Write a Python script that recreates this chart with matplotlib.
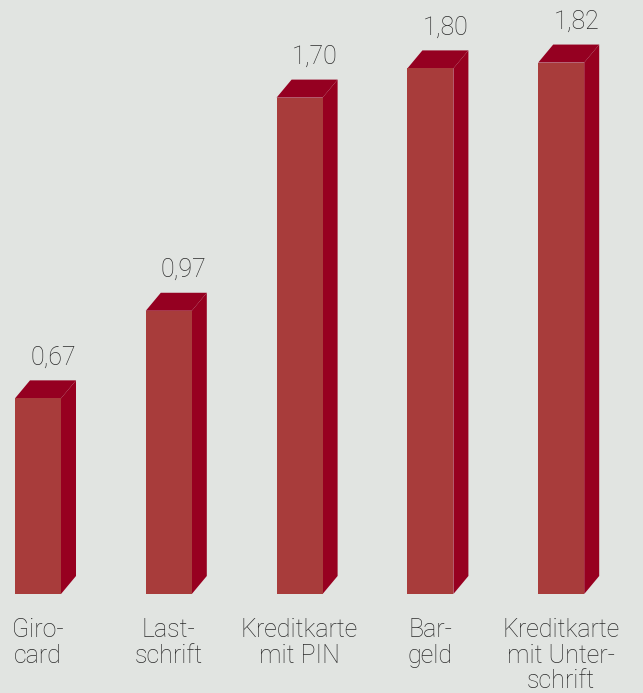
import matplotlib
matplotlib.use("Agg")
import matplotlib.pyplot as plt
from matplotlib.patches import Polygon

categories = ["Giro-\ncard", "Last-\nschrift", "Kreditkarte\nmit PIN", "Bar-\ngeld", "Kreditkarte\nmit Unter-\nschrift"]
values = [0.67, 0.97, 1.70, 1.80, 1.82]
value_labels = ["0,67", "0,97", "1,70", "1,80", "1,82"]

BG = "#e1e4e1"
FRONT = "#a83c3b"
SIDE = "#970020"
TOP = "#950021"
TXT = "#2b2b2b"

W, H, DPI = 643, 693, 100
fig = plt.figure(figsize=(W / DPI, H / DPI), dpi=DPI, facecolor=BG)
ax = fig.add_axes([0, 0, 1, 1])
ax.set_facecolor(BG)
ax.axis("off")

pxu = 130.8   # px per category unit
pyu = 292.0   # px per value unit
x0 = 38.0     # px of first bar center
base = 594.0  # px of baseline from top
ax.set_xlim(-x0 / pxu, (W - x0) / pxu)
ax.set_ylim(-(H - base) / pyu, base / pyu)

bw = 46 / pxu
dx = 15 / pxu
dy = 18 / pyu

FONT = dict(family=["Roboto", "DejaVu Sans"], fontweight="light", fontsize=18, color=TXT)

xs = list(range(len(values)))
ax.bar(xs, values, width=bw, color=FRONT, linewidth=0, zorder=3)
for x, v, lab in zip(xs, values, value_labels):
    r = x + bw / 2
    l = x - bw / 2
    ax.add_patch(Polygon([(r, 0), (r + dx, dy), (r + dx, v + dy), (r, v)],
                         closed=True, facecolor=SIDE, edgecolor="none", zorder=2))
    ax.add_patch(Polygon([(l, v), (l + dx, v + dy), (r + dx, v + dy), (r, v)],
                         closed=True, facecolor=TOP, edgecolor="none", zorder=2))
    ax.annotate(lab, (x + dx, v + dy), xytext=(0, 16 * 72 / DPI), textcoords="offset points",
                ha="center", va="baseline", **FONT)

for x, c in zip(xs, categories):
    ax.annotate(c, (x, 0), xytext=(0, -24 * 72 / DPI), textcoords="offset points",
                ha="center", va="top", linespacing=1.08, **FONT)

fig.savefig("out.png", dpi=DPI, facecolor=BG)
